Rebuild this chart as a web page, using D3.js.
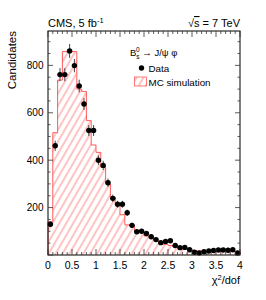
<!DOCTYPE html>
<html>
<head>
<meta charset="utf-8">
<script src="https://cdn.jsdelivr.net/npm/d3@7"></script>
<style>
  body { margin: 0; background: #fff; }
  text { font-family: "Liberation Sans", Arial, sans-serif; fill: #000; }
</style>
</head>
<body>
<svg id="chart" width="266" height="300"></svg>
<script>
// bins of width 0.1 in chi2/dof, from 0 to 4
const binLow = d3.range(40).map(i => i / 10);
const dataCounts = [130, 461, 761, 761, 861, 799, 713, 637, 525, 525,
                    400, 378, 305, 239, 214, 214, 178, 125, 98, 100,
                    91, 77, 65, 52, 57, 60, 40, 31, 32, 22,
                    12, 9, 14, 17, 19, 21, 21, 20, 22, 9];
const mcCounts = [140, 516, 738, 858, 862, 858, 700, 690, 567, 464,
                  433, 370, 300, 245, 212, 170, 127, 127, 100, 98,
                  80, 75, 62, 52, 45, 40, 36, 32, 28, 22,
                  19, 17, 15, 14, 14, 15, 15, 14, 15, 14];
const xTicks = [0, 0.5, 1, 1.5, 2, 2.5, 3, 3.5, 4];
const yTicks = [200, 400, 600, 800];

const svg = d3.select('#chart');
const m = {l: 48, r: 240, t: 31, b: 255};

const x = d3.scaleLinear().domain([0, 4]).range([m.l, m.r]);
const y = d3.scaleLinear().domain([0, 945]).range([m.b, m.t]);

// hatch pattern
const pat = svg.append('defs').append('pattern')
    .attr('id', 'hatch')
    .attr('patternUnits', 'userSpaceOnUse')
    .attr('width', 6).attr('height', 6)
    .attr('patternTransform', 'rotate(30)');
pat.append('line')
    .attr('x1', 1).attr('y1', 0).attr('x2', 1).attr('y2', 6)
    .attr('stroke', '#ff6a6a').attr('stroke-width', 0.8);

// MC histogram
const steps = [];
binLow.forEach((b, i) => {
    steps.push([b, mcCounts[i]]);
    steps.push([b + 0.1, mcCounts[i]]);
});
const histPts = [[0, 0], ...steps, [4, 0]];
const histLine = d3.line().x(d => x(d[0])).y(d => y(d[1]));

svg.append('path')
    .attr('d', histLine(histPts) + 'Z')
    .attr('fill', 'url(#hatch)');
svg.append('path')
    .attr('d', histLine(histPts))
    .attr('fill', 'none')
    .attr('stroke', '#ff5a5a')
    .attr('stroke-width', 1);

// data points with errors
const pts = svg.append('g');
binLow.forEach((b, i) => {
    const c = b + 0.05, v = dataCounts[i], e = Math.sqrt(v);
    pts.append('line')
        .attr('x1', x(c)).attr('x2', x(c))
        .attr('y1', y(v - e)).attr('y2', y(v + e))
        .attr('stroke', '#444').attr('stroke-width', 1);
    pts.append('line')
        .attr('x1', x(b)).attr('x2', x(b + 0.1))
        .attr('y1', y(v)).attr('y2', y(v))
        .attr('stroke', '#222').attr('stroke-width', 1);
});
pts.selectAll('circle')
    .data(binLow)
    .join('circle')
    .attr('cx', d => x(d + 0.05))
    .attr('cy', (d, i) => y(dataCounts[i]))
    .attr('r', 2.7)
    .attr('fill', '#000');

// frame
svg.append('rect')
    .attr('x', m.l).attr('y', m.t)
    .attr('width', m.r - m.l).attr('height', m.b - m.t)
    .attr('fill', 'none').attr('stroke', '#000').attr('stroke-width', 1);

// ticks
const tk = svg.append('g').attr('stroke', '#333').attr('stroke-width', 0.8);
d3.range(0, 4.001, 0.1).forEach(v => {
    const major = Math.abs(v * 2 - Math.round(v * 2)) < 1e-6;
    const len = major ? 6 : 3;
    tk.append('line').attr('x1', x(v)).attr('x2', x(v)).attr('y1', m.b).attr('y2', m.b - len);
    tk.append('line').attr('x1', x(v)).attr('x2', x(v)).attr('y1', m.t).attr('y2', m.t + len);
});
d3.range(0, 945, 50).forEach(v => {
    const len = v % 200 === 0 ? 5 : 2.5;
    tk.append('line').attr('y1', y(v)).attr('y2', y(v)).attr('x1', m.l).attr('x2', m.l + len);
    tk.append('line').attr('y1', y(v)).attr('y2', y(v)).attr('x1', m.r).attr('x2', m.r - len);
});

// tick labels
svg.append('g').selectAll('text')
    .data(xTicks)
    .join('text')
    .attr('x', d => x(d)).attr('y', 268.5)
    .attr('text-anchor', 'middle')
    .attr('font-size', 10.5)
    .text(d => d);
svg.append('g').selectAll('text')
    .data(yTicks)
    .join('text')
    .attr('x', m.l - 4.5).attr('y', d => y(d) + 3.7)
    .attr('text-anchor', 'end')
    .attr('font-size', 10)
    .text(d => d);

// axis titles
const xt = svg.append('text')
    .attr('x', m.r).attr('y', 284)
    .attr('text-anchor', 'end')
    .attr('font-size', 11);
xt.append('tspan').text('χ');
xt.append('tspan').attr('font-size', 7.5).attr('dy', -4).text('2');
xt.append('tspan').attr('dy', 4).text('/dof');

svg.append('text')
    .attr('transform', `translate(16, ${m.t}) rotate(-90)`)
    .attr('text-anchor', 'end')
    .attr('font-size', 11.5)
    .text('Candidates');

// header
const h1 = svg.append('text').attr('x', m.l).attr('y', 27).attr('font-size', 11);
h1.append('tspan').text('CMS, 5 fb');
h1.append('tspan').attr('font-size', 7.5).attr('dy', -4).text('-1');

const h2 = svg.append('text').attr('x', m.r).attr('y', 27)
    .attr('text-anchor', 'end').attr('font-size', 11);
h2.append('tspan').text('√');
h2.append('tspan').style('text-decoration', 'overline').text('s');
h2.append('tspan').text(' = 7 TeV');

// legend
const lg = svg.append('text').attr('x', 130).attr('y', 56).attr('font-size', 9.5);
lg.append('tspan').text('B');
lg.append('tspan').attr('font-size', 6.5).attr('dy', 2.5).text('s');
lg.append('tspan').attr('font-size', 6.5).attr('dx', -3.6).attr('dy', -7).text('0');
lg.append('tspan').attr('dy', 4.5).text(' → J/ψ φ');

svg.append('circle').attr('cx', 141.5).attr('cy', 68).attr('r', 2.7).attr('fill', '#000');
svg.append('text').attr('x', 148.5).attr('y', 71.5).attr('font-size', 9.8).text('Data');

svg.append('rect')
    .attr('x', 134.5).attr('y', 77).attr('width', 12).attr('height', 9)
    .attr('fill', 'url(#hatch)').attr('stroke', '#ff5a5a').attr('stroke-width', 0.8);
svg.append('text').attr('x', 148.5).attr('y', 85.5).attr('font-size', 9.8).text('MC simulation');
</script>
</body>
</html>
